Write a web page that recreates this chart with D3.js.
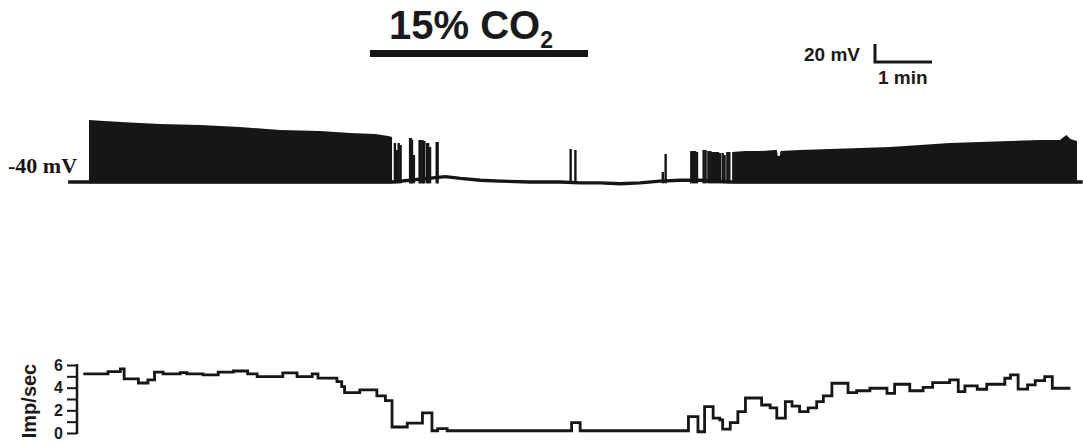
<!DOCTYPE html>
<html>
<head>
<meta charset="utf-8">
<script src="https://cdn.jsdelivr.net/npm/d3@7"></script>
<style>
    body { margin: 0; background: #fff; }
    svg { display: block; }
    .lbl { font-family: "Liberation Sans", Arial, sans-serif; font-weight: bold; fill: #1a1a1a; }
</style>
</head>
<body>
<svg id="chart" width="1083" height="442"></svg>
<script>
//  time in seconds from the start of the spike record, voltage in mV

//  upper edge of the tonic firing before CO2
const env1T = [0, 12, 43, 75, 117, 159, 201, 243, 275, 301, 315, 319];
const env1V = [29, 28, 26, 24.4, 23.3, 21.1, 17.8, 16.7, 14.4, 13.3, 11.1, 10];

//  upper edge of the firing after washout
const env2T = [677, 691, 706, 722, 724, 725, 727, 728, 748, 780, 812, 843, 875, 906, 938, 969, 1001, 1022, 1026, 1029, 1033, 1040];
const env2V = [-6.7, -5.6, -5.6, -4.4, -4.4, -11, -11, -5.6, -4.4, -3.3, -2.2, -1.1, 1.1, 3.3, 4.4, 5.6, 6.7, 6.7, 10, 12.2, 7.8, 5.6];

//  isolated spikes and short bursts
const spikeT = [322, 324, 326, 328, 338, 339, 340, 342, 348, 349, 351, 352, 353, 356, 357, 359, 366, 367,
    507, 512, 604, 607, 634, 636, 638, 640, 647, 649, 652, 654, 656, 658, 660, 662, 664, 667, 669, 672, 674];
const spikeV = [3.3, -4.4, 3.3, 1.1, 8.9, 8.9, 6.7, -10, 6.7, 6.7, 6.7, 5.6, 5.6, 3.3, 3.3, -1.1, 4.4, 4.4,
    -3.3, -4.4, -28.9, -8.9, -5.6, -5.6, -5.6, -6.7, -4.4, -4.4, -5.6, -5.6, -6.7, -6.7, -6.7, -6.7, -7.8, -7.8, -10, -6.7, -6.7];

//  membrane baseline
const baseT = [-22, 0, 319, 375, 391, 412, 433, 464, 496, 517, 538, 559, 580, 601, 622, 643, 677, 1040, 1046];
const baseV = [-40, -40, -40, -34, -36, -38, -39, -40, -40, -41, -41, -42, -41, -39, -38, -38, -40, -40, -40];

//  firing rate, step start times (s) and Imp/sec
const rateT = [-6, 20, 33, 37, 52, 62, 69, 78, 96, 103, 120, 136, 152, 167, 177, 204, 219, 235, 241, 261, 266, 269,
    285, 303, 312, 319, 335, 351, 361, 367, 377, 508, 517, 631, 641, 648, 657, 664, 667, 675, 683, 691, 708, 717,
    724, 733, 740, 748, 757, 766, 773, 782, 799, 808, 822, 840, 848, 864, 878, 888, 906, 915, 922, 935, 945, 964,
    970, 978, 988, 996, 1006, 1014];
const rateV = [5.21, 5.41, 5.65, 4.77, 4.41, 4.68, 5.38, 5.21, 5.32, 5.21, 5.12, 5.38, 5.47, 5.21, 4.97, 5.30, 4.97,
    5.21, 4.85, 4.53, 4.09, 3.56, 3.80, 3.27, 2.85, 0.53, 0.88, 1.77, 0.20, 0.38, 0.20, 0.91, 0.20, 1.44, 0.11,
    2.32, 1.32, 1.15, 0.35, 0.91, 1.88, 3.09, 2.47, 2.21, 1.32, 2.76, 2.38, 1.88, 2.21, 2.76, 3.27, 4.39, 3.56,
    3.73, 3.95, 3.50, 4.30, 3.73, 4.03, 4.44, 4.68, 3.65, 4.15, 3.86, 4.30, 4.83, 5.12, 3.88, 4.24, 4.62, 4.97, 3.95];
const rateEnd = 1033;

const rateTicks = [0, 1, 2, 3, 4, 5, 6];
const rateLabels = [0, 2, 4, 6];

const ink = "#161616";
const svg = d3.select("#chart");

const x = d3.scaleLinear().domain([0, 1040]).range([89, 1077]);
const yV = d3.scaleLinear().domain([-40, -20]).range([182, 164]);
const yR = d3.scaleLinear().domain([0, 6]).range([433, 365]);

//  ---- title and CO2 bar
const title = svg.append("text").attr("class", "lbl")
    .attr("x", 389).attr("y", 39).style("font-size", "40px");
title.append("tspan").text("15% CO");
title.append("tspan").text("2").style("font-size", "23px").attr("dy", 9);

svg.append("rect")
    .attr("x", 370).attr("y", 50).attr("width", 218).attr("height", 7)
    .attr("fill", ink);

//  ---- scale bar
const sbX = 875, sbY = 62;
svg.append("path")
    .attr("d", `M${sbX},${sbY - (yV(-40) - yV(-20))} V${sbY} H${sbX + x(60) - x(0)}`)
    .attr("fill", "none").attr("stroke", ink).attr("stroke-width", 3);
svg.append("text").attr("class", "lbl").attr("x", 860).attr("y", 61)
    .attr("text-anchor", "end").style("font-size", "19px").text("20 mV");
svg.append("text").attr("class", "lbl").attr("x", 878).attr("y", 84)
    .style("font-size", "19px").text("1 min");

//  ---- voltage trace
svg.append("text")
    .attr("x", 8).attr("y", 173)
    .style("font-family", "'Liberation Serif', 'Times New Roman', serif")
    .style("font-weight", "bold").style("font-size", "22px").attr("fill", ink)
    .text("-40 mV");

svg.append("path")
    .datum(baseT.map((t, i) => [t, baseV[i]]))
    .attr("d", d3.line().x(d => x(d[0])).y(d => yV(d[1])))
    .attr("fill", "none").attr("stroke", ink).attr("stroke-width", 3.4);

const area = d3.area()
    .x(d => x(d[0]))
    .y0(yV(-41.5))
    .y1(d => yV(d[1]));

[[env1T, env1V], [env2T, env2V]].forEach(([ts, vs]) => {
    svg.append("path")
        .datum(ts.map((t, i) => [t, vs[i]]))
        .attr("d", area)
        .attr("fill", ink);
});

svg.append("g")
    .selectAll("line")
    .data(spikeT.map((t, i) => ({t: t, v: spikeV[i]})))
    .join("line")
    .attr("x1", d => x(d.t)).attr("x2", d => x(d.t))
    .attr("y1", yV(-41.5)).attr("y2", d => yV(d.v))
    .attr("stroke", ink).attr("stroke-width", 2.4);

//  ---- rate trace
const axisR = d3.axisLeft(yR).tickValues(rateTicks).tickSize(10)
    .tickFormat(d => rateLabels.includes(d) ? d : "");
const gAx = svg.append("g").attr("transform", "translate(77,0)").call(axisR);
gAx.select(".domain").attr("d", `M0,${yR(6) - 1}V${yR(0) + 1}`)
    .attr("stroke", ink).attr("stroke-width", 2.5);
gAx.selectAll(".tick line").attr("stroke", ink).attr("stroke-width", 2);
gAx.selectAll(".tick text").attr("class", "lbl").attr("x", -14)
    .style("font-size", "16px").attr("fill", ink);

svg.append("text").attr("class", "lbl")
    .attr("transform", `translate(36,${(yR(0) + yR(6)) / 2 + 2}) rotate(-90)`)
    .attr("text-anchor", "middle").style("font-size", "20px").text("Imp/sec");

const ratePts = rateT.map((t, i) => [t, rateV[i]]);
ratePts.push([rateEnd, rateV[rateV.length - 1]]);
svg.append("path")
    .datum(ratePts)
    .attr("d", d3.line().curve(d3.curveStepAfter).x(d => x(d[0])).y(d => yR(d[1])))
    .attr("fill", "none").attr("stroke", ink).attr("stroke-width", 2.8);
</script>
</body>
</html>
